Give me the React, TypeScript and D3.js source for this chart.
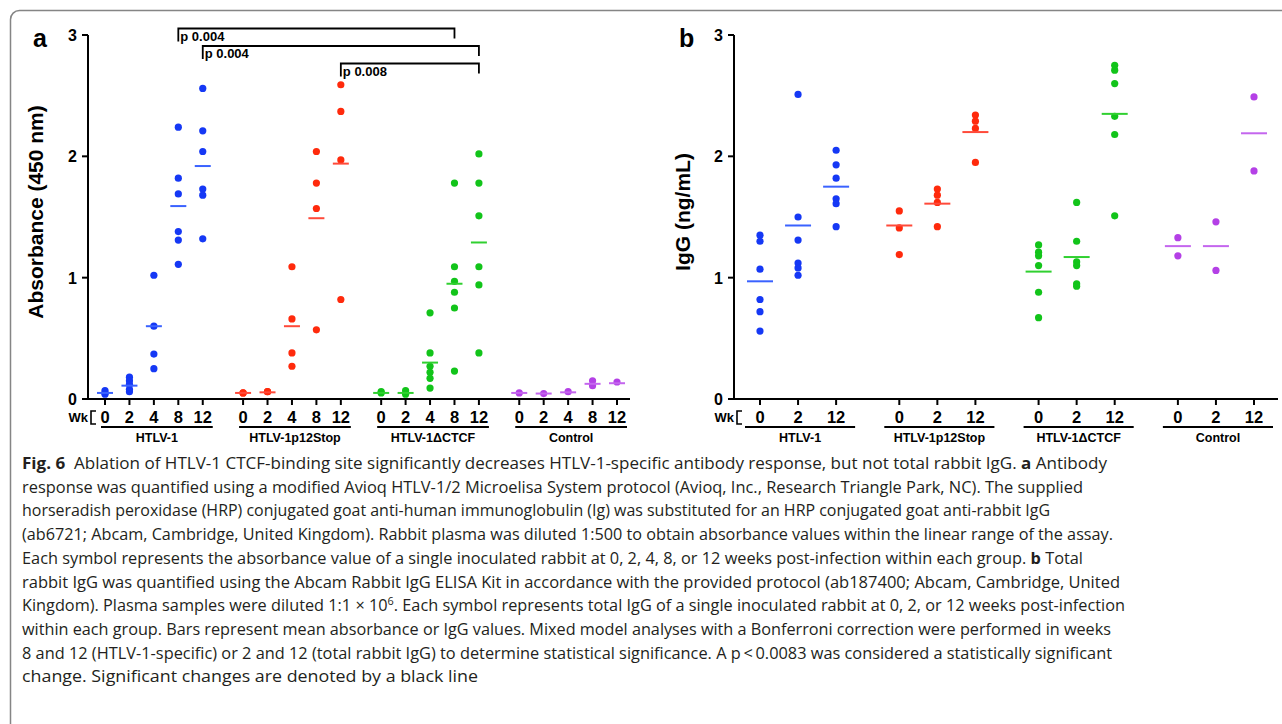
import React from "react";
import * as d3 from "d3";

// groups and weeks
const groups = ["HTLV-1", "HTLV-1p12Stop", "HTLV-1\u0394CTCF", "Control"];
const dotColors = ["#1538f5", "#ff2a0c", "#12c41a", "#b440e6"];
const meanColors = ["#3a62ff", "#ff4a3a", "#30d030", "#c466ee"];

const weeksA = ["0", "2", "4", "8", "12"];
const weeksB = ["0", "2", "12"];
const yTicks = [0, 1, 2, 3];

// panel a: HTLV-1-specific absorbance (450 nm), one array per week
const absHTLV1 = [
  [0.07, 0.05, 0.04],
  [0.18, 0.15, 0.12, 0.08, 0.06],
  [1.02, 0.6, 0.37, 0.25],
  [2.24, 1.82, 1.69, 1.38, 1.31, 1.11],
  [2.56, 2.21, 2.04, 1.73, 1.68, 1.32],
];
const absP12 = [
  [0.05, 0.05],
  [0.06, 0.06],
  [1.09, 0.66, 0.38, 0.27],
  [2.04, 1.78, 1.57, 0.57],
  [2.59, 2.37, 1.97, 0.82],
];
const absCTCF = [
  [0.06, 0.05],
  [0.07, 0.04],
  [0.71, 0.38, 0.27, 0.22, 0.17, 0.09],
  [1.78, 1.09, 0.97, 0.88, 0.75, 0.23],
  [2.02, 1.78, 1.51, 1.09, 0.94, 0.38],
];
const absCtrl = [[0.05], [0.045], [0.06], [0.15, 0.11], [0.14]];
const absMeans = [
  [0.05, 0.11, 0.6, 1.59, 1.92],
  [0.05, 0.055, 0.6, 1.49, 1.94],
  [0.05, 0.05, 0.3, 0.95, 1.29],
  [0.05, 0.045, 0.055, 0.125, 0.13],
];

// panel b: total rabbit IgG (ng/mL)
const iggHTLV1 = [
  [1.35, 1.3, 1.07, 0.82, 0.72, 0.56],
  [2.51, 1.5, 1.31, 1.12, 1.08, 1.02],
  [2.05, 1.93, 1.82, 1.65, 1.61, 1.42],
];
const iggP12 = [
  [1.55, 1.41, 1.19],
  [1.73, 1.68, 1.62, 1.42],
  [2.34, 2.29, 2.23, 1.95],
];
const iggCTCF = [
  [1.27, 1.21, 1.18, 1.1, 0.88, 0.67],
  [1.62, 1.3, 1.13, 1.1, 0.95, 0.93],
  [2.75, 2.71, 2.6, 2.33, 2.18, 1.51],
];
const iggCtrl = [
  [1.33, 1.18],
  [1.46, 1.06],
  [2.49, 1.88],
];
const iggMeans = [
  [0.97, 1.43, 1.75],
  [1.43, 1.61, 2.2],
  [1.05, 1.17, 2.35],
  [1.26, 1.26, 2.19],
];

// significance brackets in panel a: [group, week index]
const sigTests = [
  { from: [0, 3], to: [2, 3], p: "p 0.004" },
  { from: [0, 4], to: [2, 4], p: "p 0.004" },
  { from: [1, 4], to: [2, 4], p: "p 0.008" },
];

// caption, one entry per printed line
type Seg = { t: string; b?: boolean; sup?: boolean };
const captionLines: Seg[][] = [
  [
    { t: "Fig. 6", b: true },
    { t: "  Ablation of HTLV-1 CTCF-binding site significantly decreases HTLV-1-specific antibody response, but not total rabbit IgG. " },
    { t: "a", b: true },
    { t: " Antibody" },
  ],
  [{ t: "response was quantified using a modified Avioq HTLV-1/2 Microelisa System protocol (Avioq, Inc., Research Triangle Park, NC). The supplied" }],
  [{ t: "horseradish peroxidase (HRP) conjugated goat anti-human immunoglobulin (Ig) was substituted for an HRP conjugated goat anti-rabbit IgG" }],
  [{ t: "(ab6721; Abcam, Cambridge, United Kingdom). Rabbit plasma was diluted 1:500 to obtain absorbance values within the linear range of the assay." }],
  [
    { t: "Each symbol represents the absorbance value of a single inoculated rabbit at 0, 2, 4, 8, or 12 weeks post-infection within each group. " },
    { t: "b", b: true },
    { t: " Total" },
  ],
  [{ t: "rabbit IgG was quantified using the Abcam Rabbit IgG ELISA Kit in accordance with the provided protocol (ab187400; Abcam, Cambridge, United" }],
  [
    { t: "Kingdom). Plasma samples were diluted 1:1 \u00d7 10" },
    { t: "6", sup: true },
    { t: ". Each symbol represents total IgG of a single inoculated rabbit at 0, 2, or 12 weeks post-infection" },
  ],
  [{ t: "within each group. Bars represent mean absorbance or IgG values. Mixed model analyses with a Bonferroni correction were performed in weeks" }],
  [{ t: "8 and 12 (HTLV-1-specific) or 2 and 12 (total rabbit IgG) to determine statistical significance. A p\u2009<\u20090.0083 was considered a statistically significant" }],
  [{ t: "change. Significant changes are denoted by a black line" }],
];
// right edge of each caption line as printed
const captionLineEnds = [1107, 1083, 1050, 1113, 1083, 1120, 1125, 1111, 1112, 478];

const W = 1282;
const H = 724;
const FONT = "'Liberation Sans', Arial, sans-serif";

const y = d3.scaleLinear().domain([0, 3]).range([399, 35]);

type PanelProps = {
  letter: string;
  letterX: number;
  title: string;
  titleX: number;
  axisX: number;
  axisEnd: number;
  colRange: [number, number];
  groupStep: number;
  weeks: string[];
  series: number[][][];
  means: number[][];
  meanW: number;
  ulPad: [number, number];
};

function Panel(p: PanelProps) {
  const nw = p.weeks.length;
  const x = d3
    .scaleLinear()
    .domain([0, 3 * p.groupStep + nw - 1])
    .range(p.colRange);
  const cx = (g: number, i: number) => x(g * p.groupStep + i);

  return (
    <g fontFamily={FONT}>
      <text x={p.letterX} y={47} fontSize={25} fontWeight="bold">
        {p.letter}
      </text>
      <text
        transform={`translate(${p.titleX},212) rotate(-90)`}
        textAnchor="middle"
        fontSize={21}
        fontWeight="bold"
      >
        {p.title}
      </text>
      {/* y axis */}
      <line x1={p.axisX} x2={p.axisX} y1={y(3)} y2={y(0)} stroke="#000" strokeWidth={2} />
      {yTicks.map((t) => (
        <g key={t}>
          <line x1={p.axisX - 6} x2={p.axisX} y1={y(t)} y2={y(t)} stroke="#000" strokeWidth={2} />
          <text x={p.axisX - 11} y={y(t) + 6} textAnchor="end" fontSize={16} fontWeight="bold">
            {t}
          </text>
        </g>
      ))}
      {/* x axis */}
      <line x1={p.axisX - 1} x2={p.axisEnd} y1={y(0)} y2={y(0)} stroke="#000" strokeWidth={2} />
      <text x={p.axisX} y={422} textAnchor="end" fontSize={13} fontWeight="bold">
        Wk
      </text>
      <path
        d={`M${p.axisX + 8},411 H${p.axisX + 3} V424 H${p.axisX + 8}`}
        fill="none"
        stroke="#000"
        strokeWidth={1.6}
      />
      {groups.map((gName, g) => (
        <g key={gName}>
          {p.weeks.map((wk, i) => (
            <g key={wk}>
              <line x1={cx(g, i)} x2={cx(g, i)} y1={y(0)} y2={y(0) + 6} stroke="#000" strokeWidth={2} />
              <text x={cx(g, i)} y={423} textAnchor="middle" fontSize={16.5} fontWeight="bold">
                {wk}
              </text>
              {p.series[g][i].map((v, k) => (
                <circle key={k} cx={cx(g, i)} cy={y(v)} r={3.6} fill={dotColors[g]} />
              ))}
              <line
                x1={cx(g, i) - p.meanW / 2}
                x2={cx(g, i) + p.meanW / 2}
                y1={y(p.means[g][i])}
                y2={y(p.means[g][i])}
                stroke={meanColors[g]}
                strokeWidth={2}
              />
            </g>
          ))}
          <line
            x1={cx(g, 0) + p.ulPad[0]}
            x2={cx(g, nw - 1) + p.ulPad[1]}
            y1={427}
            y2={427}
            stroke="#000"
            strokeWidth={2}
          />
          <text
            x={(cx(g, 0) + p.ulPad[0] + cx(g, nw - 1) + p.ulPad[1]) / 2}
            y={441.5}
            textAnchor="middle"
            fontSize={12.5}
            fontWeight="bold"
          >
            {gName}
          </text>
        </g>
      ))}
      {p.letter === "a" &&
        sigTests.map((s, j) => {
          const x1 = cx(s.from[0], s.from[1]);
          const x2 = cx(s.to[0], s.to[1]);
          const ly = 28.5 + j * 17.5;
          return (
            <g key={j}>
              <path
                d={`M${x1},${ly + 13} V${ly} H${x2} V${ly + 10}`}
                fill="none"
                stroke="#000"
                strokeWidth={1.8}
              />
              <text x={x1 + 2} y={ly + 12} fontSize={13} fontWeight="bold">
                {s.p}
              </text>
            </g>
          );
        })}
    </g>
  );
}

export default function App() {
  return (
    <svg
      width={W}
      height={H}
      style={{ position: "absolute", left: 0, top: 0, display: "block", background: "#fff" }}
    >
      <rect x={0} y={0} width={W} height={H} fill="#fff" />
      <rect x={10.5} y={10.5} width={1320} height={760} rx={9} fill="none" stroke="#858585" strokeWidth={1.5} />
      <Panel
        letter="a"
        letterX={33}
        title="Absorbance (450 nm)"
        titleX={43}
        axisX={88}
        axisEnd={630}
        colRange={[105, 617]}
        groupStep={5.65}
        weeks={weeksA}
        series={[absHTLV1, absP12, absCTCF, absCtrl]}
        means={absMeans}
        meanW={16}
        ulPad={[-4, 10]}
      />
      <Panel
        letter="b"
        letterX={679}
        title="IgG (ng/mL)"
        titleX={690}
        axisX={734}
        axisEnd={1278}
        colRange={[760, 1254]}
        groupStep={3.66}
        weeks={weeksB}
        series={[iggHTLV1, iggP12, iggCTCF, iggCtrl]}
        means={iggMeans}
        meanW={26}
        ulPad={[-15, 19]}
      />
      <g fontFamily="'Open Sans', 'Noto Sans', sans-serif" fontSize={16.5} fill="#231f20">
        {captionLines.map((line, li) => (
          <text
            key={li}
            x={22}
            y={469 + li * 23.7}
            textLength={captionLineEnds[li] - 22}
            lengthAdjust="spacingAndGlyphs"
            style={{ whiteSpace: "pre" }}
          >
            {line.map((s, si) => {
              const prevSup = si > 0 && line[si - 1].sup;
              return (
                <tspan
                  key={si}
                  dy={s.sup ? -6 : prevSup ? 6 : undefined}
                  fontSize={s.sup ? 11 : undefined}
                  fontWeight={s.b ? "bold" : undefined}
                >
                  {s.t}
                </tspan>
              );
            })}
          </text>
        ))}
      </g>
    </svg>
  );
}
